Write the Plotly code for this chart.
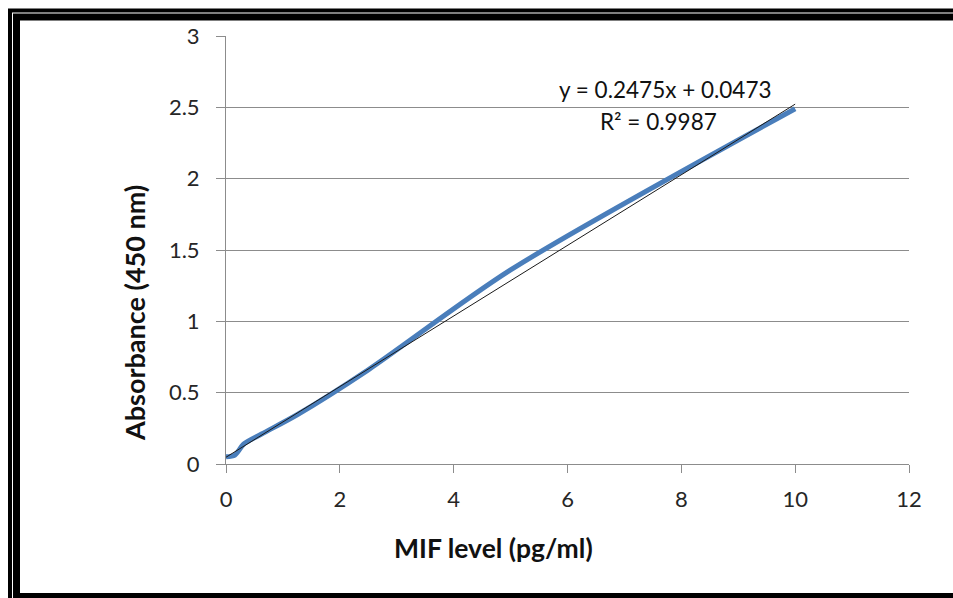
import plotly.graph_objects as go

# ---- data ----
mif_level = [0, 0.156, 0.3125, 0.625, 1.25, 2.5, 5, 10]
absorbance = [0.05, 0.063, 0.14, 0.21, 0.345, 0.66, 1.36, 2.49]
slope = 0.2475
intercept = 0.0473
r_squared = 0.9987
x_ticks = [0, 2, 4, 6, 8, 10, 12]
y_ticks = [0, 0.5, 1, 1.5, 2, 2.5, 3]

W, H = 953, 598
L, R, T, B = 226, 44, 36, 134
PW, PH = W - L - R, H - T - B


def px(x):
    return (x - L) / PW


def py(y):
    return (H - B - y) / PH


FONT = "Lato, 'Open Sans', sans-serif"
GRID = "#8c8c8c"

fig = go.Figure()
fig.add_trace(go.Scatter(
    x=mif_level, y=absorbance, mode="lines",
    line=dict(color="#4a7ebb", width=5, shape="spline", smoothing=0.8),
    showlegend=False, hoverinfo="skip"))

trend_x = [mif_level[0], mif_level[-1]]
trend_y = [slope * v + intercept for v in trend_x]
fig.add_trace(go.Scatter(
    x=trend_x, y=trend_y, mode="lines",
    line=dict(color="#1a1a1a", width=1),
    showlegend=False, hoverinfo="skip"))

fig.update_layout(
    width=W, height=H,
    margin=dict(l=L, r=R, t=T, b=B),
    paper_bgcolor="white", plot_bgcolor="white",
    font=dict(family=FONT, size=22, color="#262626"),
    xaxis=dict(range=[0, 12], tickvals=x_ticks, showgrid=False,
               showline=True, linecolor=GRID, linewidth=1,
               ticks="outside", ticklen=8, tickcolor=GRID,
               zeroline=False, ticklabelstandoff=8),
    yaxis=dict(range=[0, 3], tickvals=y_ticks, showgrid=True,
               gridcolor=GRID, gridwidth=1,
               showline=True, linecolor=GRID, linewidth=1,
               ticks="outside", ticklen=9, tickcolor=GRID,
               zeroline=False, ticklabelstandoff=12),
)

ann = dict(xref="paper", yref="paper", showarrow=False,
           xanchor="center", yanchor="middle")
fig.add_annotation(
    text="<b>Absorbance (450 nm)</b>", textangle=-90,
    x=px(134), y=py(313), font=dict(size=27, family=FONT, color="#111"), **ann)
fig.add_annotation(
    text="<b>MIF level (pg/ml)</b>",
    x=px(493), y=py(548), font=dict(size=26.5, family=FONT, color="#111"), **ann)
fig.add_annotation(
    text=f"y = {slope}x + {intercept}",
    x=px(665), y=py(89), font=dict(size=22.5, family=FONT, color="#111"), **ann)
fig.add_annotation(
    text=f"R² = {r_squared}",
    x=px(658), y=py(121), font=dict(size=22.5, family=FONT, color="#111"), **ann)

# double frame around the chart
fig.add_shape(type="rect", xref="paper", yref="paper",
              x0=px(10), x1=px(1200), y0=py(10.5), y1=py(700),
              line=dict(color="black", width=4), layer="above")
fig.add_shape(type="rect", xref="paper", yref="paper",
              x0=px(16.5), x1=px(1100), y0=py(17), y1=py(596.5),
              line=dict(color="black", width=7), layer="above")

fig.write_html("out.html")
